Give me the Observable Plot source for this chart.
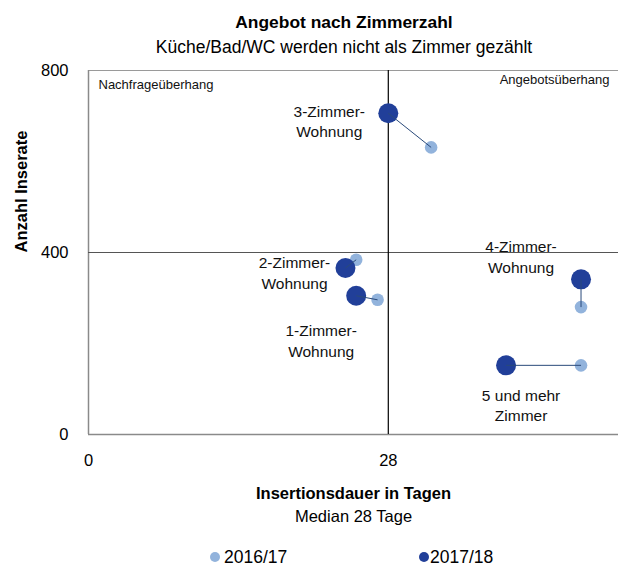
<!DOCTYPE html>
<html><head><meta charset="utf-8">
<script src="https://cdn.jsdelivr.net/npm/d3@7"></script>
<script src="https://cdn.jsdelivr.net/npm/@observablehq/plot@0.6"></script>
<style>
body{margin:0;background:#fff;font-family:"Liberation Sans",Arial,sans-serif;color:#000}
#wrap{position:relative;width:618px;height:567px;overflow:hidden}
#title{position:absolute;top:12px;left:35px;width:618px;text-align:center;font-weight:bold;font-size:17.4px;line-height:20px}
#subtitle{position:absolute;top:37px;left:35px;width:618px;text-align:center;font-size:17.5px;line-height:20px}
#chart{position:absolute;top:62px;left:0}
.leg{position:absolute;top:547px;font-size:17.5px;line-height:20px;white-space:nowrap}
</style></head><body>
<div id="wrap">
<div id="title">Angebot nach Zimmerzahl</div>
<div id="subtitle">Küche/Bad/WC werden nicht als Zimmer gezählt</div>
<div id="chart"></div>
<div id="legend"></div>
</div>
<script>
const categories = ["1-Zimmer-\nWohnung","2-Zimmer-\nWohnung","3-Zimmer-\nWohnung","4-Zimmer-\nWohnung","5 und mehr\nZimmer"];
const seasons = ["2016/17","2017/18"];
const duration2016 = [27, 25, 32, 46, 46];
const listings2016 = [296, 384, 631, 280, 152];
const duration2017 = [25, 24, 28, 46, 39];
const listings2017 = [305, 366, 706, 341, 152];
const xTicks = [0, 28];
const yTicks = [0, 400, 800];
const medianDays = 28;
const midListings = 400;
const quadrantLabels = ["Nachfrageüberhang","Angebotsüberhang"];
const xTitle = "Insertionsdauer in Tagen";
const yTitle = "Anzahl Inserate";

const colors = {"2016/17": "#92b3dc", "2017/18": "#213f99"};
// label offsets (pixels) relative to the 2017/18 point, by category index
const labelShift = [[-35,44],[-51,4],[-59,7],[-60,-24],[15,39]];

const rows = categories.map((c,i) => ({
  cat: c, i,
  x16: duration2016[i], y16: listings2016[i],
  x17: duration2017[i], y17: listings2017[i]
}));

const font = '"Liberation Sans", Arial, sans-serif';
const marks = [
  Plot.ruleY([0], {stroke:"#8a8a8a", strokeWidth:1.5}),
  Plot.ruleY([800], {stroke:"#9a9a9a", strokeWidth:1}),
  Plot.ruleX([0], {stroke:"#8a8a8a", strokeWidth:1.5}),
  Plot.ruleY([midListings], {stroke:"#555", strokeWidth:1}),
  Plot.ruleX([medianDays], {y1:0, y2:800, stroke:"#000", strokeWidth:1.2}),
  Plot.dot(rows, {x:"x16", y:"y16", r:6.3, fill:colors["2016/17"]}),
  Plot.dot(rows, {x:"x17", y:"y17", r:10, fill:colors["2017/18"]}),
  Plot.link(rows, {x1:"x17", y1:"y17", x2:"x16", y2:"y16", stroke:"#2a4a7a", strokeWidth:1}),
  ...rows.map(d => Plot.text([d], {x:"x17", y:"y17", text:"cat", dx:labelShift[d.i][0], dy:labelShift[d.i][1],
      fontSize:15.5, lineHeight:1.35, textAnchor:"middle", lineAnchor:"middle", fill:"#111"})),
  Plot.text([quadrantLabels[0]], {text:d=>d, frameAnchor:"top-left", dx:10, dy:14, textAnchor:"start", lineAnchor:"middle", fontSize:13, fill:"#111"}),
  Plot.text([quadrantLabels[1]], {text:d=>d, frameAnchor:"top-right", dx:-9, dy:9, textAnchor:"end", lineAnchor:"middle", fontSize:13, fill:"#111"}),
  Plot.text([xTitle], {text:d=>d, frameAnchor:"bottom", dy:59, fontWeight:"bold", fontSize:16.5, lineAnchor:"middle"}),
  Plot.text([`Median ${medianDays} Tage`], {text:d=>d, frameAnchor:"bottom", dy:82, fontSize:16.5, lineAnchor:"middle"}),
  Plot.text([yTitle], {text:d=>d, frameAnchor:"left", dx:-67, rotate:-90, fontWeight:"bold", fontSize:16.5, lineAnchor:"middle"})
];

const chart = Plot.plot({
  width: 618, height: 480,
  marginTop: 8, marginBottom: 108, marginLeft: 88, marginRight: 0,
  style: {fontFamily: font, fontSize: "16.5px", color:"#000", background:"transparent"},
  x: {domain:[0,49.5], ticks:xTicks, tickSize:0, tickPadding:20, label:null, tickFormat:d=>String(d)},
  y: {domain:[0,800], ticks:yTicks, tickSize:0, tickPadding:20, label:null, tickFormat:d=>String(d)},
  marks
});
document.getElementById("chart").appendChild(chart);

const legend = document.getElementById("legend");
const legPos = [[210,224],[419,430]];
seasons.forEach((s,k) => {
  const dot = document.createElement("div");
  dot.style.cssText = `position:absolute;top:552px;left:${legPos[k][0]-0.4}px;width:10px;height:10px;border-radius:50%;background:${colors[s]}`;
  legend.appendChild(dot);
  const t = document.createElement("div");
  t.className = "leg";
  t.style.left = legPos[k][1] + "px";
  t.textContent = s;
  legend.appendChild(t);
});
</script>
</body></html>
